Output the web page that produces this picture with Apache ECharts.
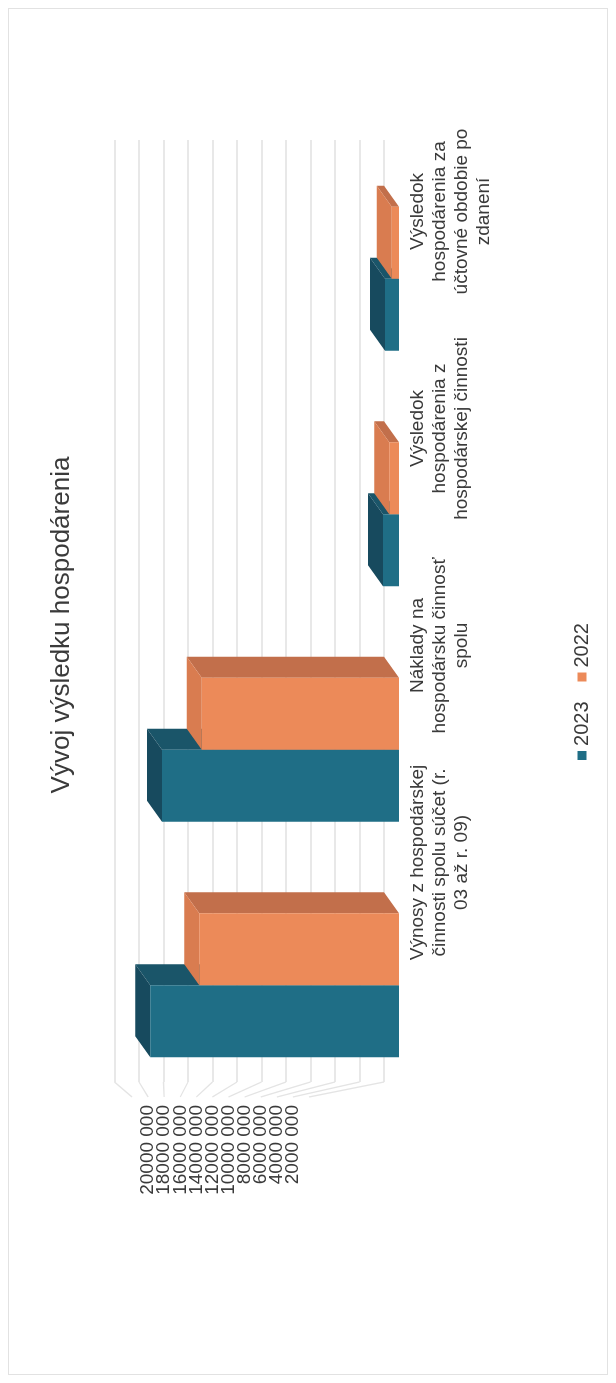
<!DOCTYPE html>
<html>
<head>
<meta charset="utf-8">
<script src="https://cdn.jsdelivr.net/npm/echarts@6/dist/echarts.min.js"></script>
<style>
  html, body { margin: 0; padding: 0; background: #ffffff; overflow: hidden; }
  #page { position: absolute; left: 0; top: 0; width: 616px; height: 1383px; overflow: hidden; background: #ffffff; }
  #frame { position: absolute; left: 8px; top: 8px; width: 598px; height: 1365px; border: 1px solid #e2e2e2; }
  /* the chart is laid out landscape and turned a quarter turn counter-clockwise */
  #chart { position: absolute; left: 0; top: 0; width: 1383px; height: 616px;
           transform-origin: 0 0; transform: translate(0px, 1383px) rotate(-90deg); }
</style>
</head>
<body>
<div id="page">
  <div id="frame"></div>
  <div id="chart"></div>
</div>
<script>
// ---- data ----
const categories = [
  'Výnosy z hospodárskej\nčinnosti spolu súčet (r.\n03 až r. 09)',
  'Náklady na\nhospodársku činnosť\nspolu',
  'Výsledok\nhospodárenia z\nhospodárskej činnosti',
  'Výsledok\nhospodárenia za\núčtovné obdobie po\nzdanení'
];
const seriesNames = ['2023', '2022'];
const values2023 = [20300000, 19350000, 1300000, 1150000];
const values2022 = [16300000, 16100000, 800000, 600000];
const valueTicks = [0, 2000000, 4000000, 6000000, 8000000, 10000000,
                    12000000, 14000000, 16000000, 18000000, 20000000, 22000000];

// ---- look ----
const FONT = '"Liberation Sans", Arial, sans-serif';
const TEXT = '#3a3a3a';
const COLORS = {
  '2023': { front: '#1f6e86', side: '#1a5569', top: '#174a5e' },
  '2022': { front: '#ec8a59', side: '#c26f4b', top: '#d97c50' }
};
const DEPTH_U = 21;   // oblique depth offset, along the category direction
const DEPTH_V = 15;   // oblique depth offset, along the value direction
const BAR_W = 72;     // front face width of one bar

function fmtValue(v) {
  if (v === 0 || v > 20000000) return '';
  return Math.round(v / 1000) + ' 000';
}

let chart;

// a pseudo-3D box drawn from the back-wall coordinates of the value
function boxRender(seriesIndex) {
  const c = COLORS[seriesNames[seriesIndex]];
  return function (params, api) {
    const cat = api.value(0);
    const val = api.value(1);
    const base = api.coord([cat, 0]);
    const tip = api.coord([cat, val]);
    const cx = base[0] - DEPTH_U;              // centre of the pair at the front
    const x0 = seriesIndex === 0 ? cx - BAR_W : cx;
    const x1 = x0 + BAR_W;
    const yb = base[1] + DEPTH_V;
    const yt = tip[1] + DEPTH_V;
    return {
      type: 'group',
      children: [
        { type: 'polygon', shape: { points: [[x1, yt], [x1, yb], [x1 + DEPTH_U, yb - DEPTH_V], [x1 + DEPTH_U, yt - DEPTH_V]] },
          style: { fill: c.side } },
        { type: 'polygon', shape: { points: [[x0, yt], [x1, yt], [x1 + DEPTH_U, yt - DEPTH_V], [x0 + DEPTH_U, yt - DEPTH_V]] },
          style: { fill: c.top } },
        { type: 'rect', shape: { x: x0, y: yt, width: BAR_W, height: yb - yt },
          style: { fill: c.front } }
      ]
    };
  };
}

// side wall: joins each back-wall gridline to its caption on the front edge
function wallRender(params, api) {
  const val = api.value(0);
  const p = api.coord([0, val]);
  const left = params.coordSys.x;
  const front = chart.convertToPixel({ yAxisIndex: 2 }, val);
  const frontX = chart.convertToPixel({ xAxisIndex: 2 }, 0);
  if (front == null || frontX == null) return null;
  return {
    type: 'line',
    shape: { x1: left, y1: p[1], x2: frontX + 2, y2: front },
    style: { stroke: '#e4e4e4', lineWidth: 1.3 }
  };
}

chart = echarts.init(document.getElementById('chart'), null, { renderer: 'canvas' });

const option = {
  backgroundColor: 'transparent',
  animation: false,
  textStyle: { fontFamily: FONT },
  title: {
    text: 'Vývoj výsledku hospodárenia',
    left: 753, top: 44, textAlign: 'center',
    textStyle: { fontFamily: FONT, fontSize: 26, fontWeight: 'normal', color: TEXT }
  },
  legend: {
    data: seriesNames.map(n => ({ name: n, itemStyle: { color: COLORS[n].front } })),
    left: 'center', top: 567,
    icon: 'rect', itemWidth: 9, itemHeight: 9, itemGap: 20,
    textStyle: { fontFamily: FONT, fontSize: 20, color: TEXT }
  },
  grid: [
    { left: 301, width: 942, top: 114.5, bottom: 232 },   // back wall with bars
    { left: 412, width: 868, top: 0, height: 403 },       // category captions
    { left: 284, width: 1, top: 132, bottom: 307 }        // value captions on the front edge
  ],
  xAxis: [
    { gridIndex: 0, type: 'category', data: categories,
      axisLine: { show: false }, axisTick: { show: false }, axisLabel: { show: false } },
    { gridIndex: 1, type: 'category', data: categories,
      axisLine: { show: false }, axisTick: { show: false },
      axisLabel: { show: true, interval: 0, margin: 4, fontFamily: FONT, fontSize: 19,
                   lineHeight: 22, color: TEXT, align: 'center', verticalAlign: 'top' } },
    { gridIndex: 2, type: 'value', show: false, min: 0, max: 1 }
  ],
  yAxis: [
    { gridIndex: 0, type: 'value', min: 0, max: 22000000, interval: 2000000,
      axisLine: { show: false }, axisTick: { show: false }, axisLabel: { show: false },
      splitLine: { show: true, lineStyle: { color: '#e0e0e0', width: 1.5 } } },
    { gridIndex: 1, type: 'value', show: false },
    { gridIndex: 2, type: 'value', min: 0, max: 22000000, interval: 2000000,
      axisLine: { show: false }, axisTick: { show: false }, splitLine: { show: false },
      axisLabel: { show: true, margin: 6, fontFamily: FONT, fontSize: 19, color: TEXT,
                   formatter: fmtValue } }
  ],
  series: [
    { type: 'custom', name: 'wall', xAxisIndex: 0, yAxisIndex: 0, silent: true,
      renderItem: wallRender, data: valueTicks.map(v => [v]), encode: { y: 0 }, z: 1 },
    { type: 'custom', name: seriesNames[0], xAxisIndex: 0, yAxisIndex: 0,
      itemStyle: { color: COLORS['2023'].front },
      renderItem: boxRender(0), data: values2023.map((v, i) => [i, v]), clip: false, z: 2 },
    { type: 'custom', name: seriesNames[1], xAxisIndex: 0, yAxisIndex: 0,
      itemStyle: { color: COLORS['2022'].front },
      renderItem: boxRender(1), data: values2022.map((v, i) => [i, v]), clip: false, z: 3 }
  ]
};

chart.setOption(option);
// second pass so the side wall can read the front-edge axis once it is laid out
chart.setOption(option, true);
</script>
</body>
</html>
